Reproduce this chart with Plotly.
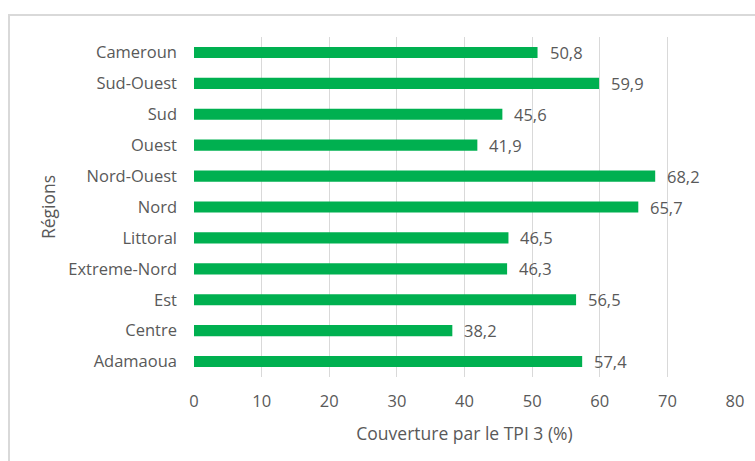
import plotly.graph_objects as go

# Regions, listed bottom to top as they appear on the axis
regions = ["Adamaoua", "Centre", "Est", "Extreme-Nord", "Littoral", "Nord",
           "Nord-Ouest", "Ouest", "Sud", "Sud-Ouest", "Cameroun"]
coverage = [57.4, 38.2, 56.5, 46.3, 46.5, 65.7, 68.2, 41.9, 45.6, 59.9, 50.8]
x_ticks = [0, 10, 20, 30, 40, 50, 60, 70, 80]

GREEN = "#00B050"
GREY_TEXT = "#595959"
FONT = "Open Sans"
SIZE = 16.5

fig = go.Figure()
fig.add_trace(go.Bar(
    x=coverage,
    y=regions,
    orientation="h",
    marker=dict(color=GREEN, line=dict(width=0)),
    hoverinfo="x+y",
))

# Value labels to the right of each bar
for r, v in zip(regions, coverage):
    fig.add_annotation(
        x=v, y=r, xref="x", yref="y",
        text=f"{v:.1f}".replace(".", ","),
        showarrow=False, xanchor="left", yanchor="middle",
        xshift=10,
        font=dict(family=FONT, size=SIZE, color=GREY_TEXT),
    )

fig.update_layout(
    width=755, height=461,
    margin=dict(l=194, r=20, t=37, b=84),
    paper_bgcolor="white", plot_bgcolor="white",
    bargap=0.64,
    showlegend=False,
    separators=", ",
    font=dict(family=FONT, size=SIZE, color=GREY_TEXT),
    xaxis=dict(
        range=[0, 80], tickvals=x_ticks,
        showgrid=True, gridcolor="#D9D9D9", gridwidth=1,
        zeroline=False, showline=False, ticks="",
        ticklabelstandoff=12,
        tickfont=dict(family=FONT, size=SIZE, color=GREY_TEXT),
        title=dict(text="Couverture par le TPI 3 (%)",
                   font=dict(family=FONT, size=17.5, color=GREY_TEXT),
                   standoff=17),
        fixedrange=True,
    ),
    yaxis=dict(
        categoryorder="array", categoryarray=regions,
        showgrid=False, zeroline=False, showline=False, ticks="",
        ticklabelstandoff=16,
        tickfont=dict(family=FONT, size=SIZE, color=GREY_TEXT),
        title=dict(text="Régions",
                   font=dict(family=FONT, size=17.5, color=GREY_TEXT),
                   standoff=8),
        fixedrange=True,
    ),
    shapes=[
        # chart frame (runs off the right and bottom edges of the page)
        dict(type="rect", xref="paper", yref="paper",
             x0=-(194 - 9) / 541, x1=1 + 40 / 541,
             y0=-(84 + 20) / 340, y1=1 + (37 - 15) / 340,
             line=dict(color="#D9D9D9", width=2), fillcolor="rgba(0,0,0,0)",
             layer="below"),
    ],
)

fig.write_html("out.html")
